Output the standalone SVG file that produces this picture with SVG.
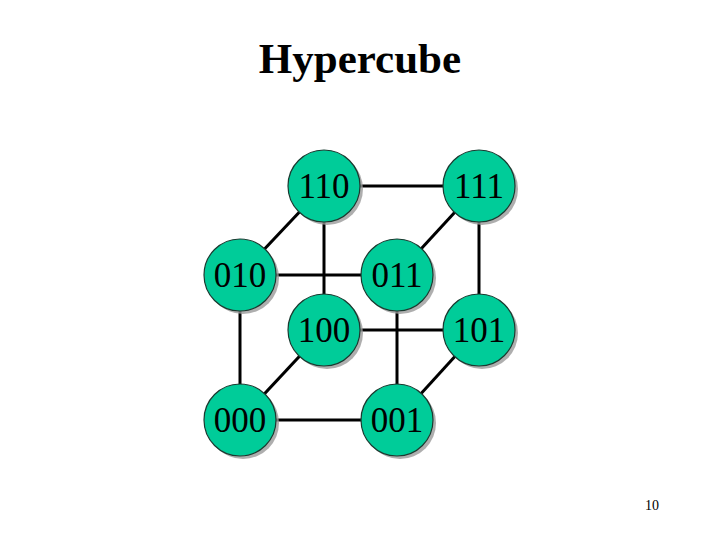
<svg xmlns="http://www.w3.org/2000/svg" width="720" height="540" viewBox="0 0 720 540">
<defs>
<style>
.edge{stroke:#000;stroke-width:3;fill:none}
.shadow{fill:#9a9a9a;opacity:0.8}
.node{fill:#00cc99;stroke:#1a3a30;stroke-width:1.2}
.label{font-family:"Liberation Serif","Times New Roman",serif;font-size:35px;fill:#000;text-anchor:middle}
</style>
</defs>
<rect width="720" height="540" fill="#fff"/>
<text x="360" y="73" font-family="'Liberation Serif','Times New Roman',serif" font-weight="bold" font-size="43" text-anchor="middle">Hypercube</text>
<g id="connectors">
<line class="edge" x1="324" y1="186" x2="479" y2="186"/>
<line class="edge" x1="324" y1="186" x2="240" y2="275"/>
<line class="edge" x1="324" y1="186" x2="324" y2="330"/>
<line class="edge" x1="240" y1="275" x2="397" y2="275"/>
<line class="edge" x1="240" y1="275" x2="240" y2="420"/>
<line class="edge" x1="397" y1="275" x2="479" y2="186"/>
<line class="edge" x1="397" y1="275" x2="397" y2="420"/>
<line class="edge" x1="324" y1="330" x2="479" y2="330"/>
<line class="edge" x1="324" y1="330" x2="240" y2="420"/>
<line class="edge" x1="479" y1="330" x2="397" y2="420"/>
<line class="edge" x1="479" y1="330" x2="479" y2="186"/>
<line class="edge" x1="240" y1="420" x2="397" y2="420"/>
</g>
<g id="n110"><circle class="shadow" cx="327" cy="189" r="36"/><circle class="node" cx="324" cy="186" r="36"/><text class="label" x="324" y="198">110</text></g>
<g id="n111"><circle class="shadow" cx="482" cy="189" r="36"/><circle class="node" cx="479" cy="186" r="36"/><text class="label" x="479" y="198">111</text></g>
<g id="n010"><circle class="shadow" cx="243" cy="278" r="36"/><circle class="node" cx="240" cy="275" r="36"/><text class="label" x="240" y="287">010</text></g>
<g id="n011"><circle class="shadow" cx="400" cy="278" r="36"/><circle class="node" cx="397" cy="275" r="36"/><text class="label" x="397" y="287">011</text></g>
<g id="n100"><circle class="shadow" cx="327" cy="333" r="36"/><circle class="node" cx="324" cy="330" r="36"/><text class="label" x="324" y="342">100</text></g>
<g id="n101"><circle class="shadow" cx="482" cy="333" r="36"/><circle class="node" cx="479" cy="330" r="36"/><text class="label" x="479" y="342">101</text></g>
<g id="n000"><circle class="shadow" cx="243" cy="423" r="36"/><circle class="node" cx="240" cy="420" r="36"/><text class="label" x="240" y="432">000</text></g>
<g id="n001"><circle class="shadow" cx="400" cy="423" r="36"/><circle class="node" cx="397" cy="420" r="36"/><text class="label" x="397" y="432">001</text></g>
<text x="652" y="510" font-family="'Liberation Serif','Times New Roman',serif" font-size="14" text-anchor="middle">10</text>
</svg>
